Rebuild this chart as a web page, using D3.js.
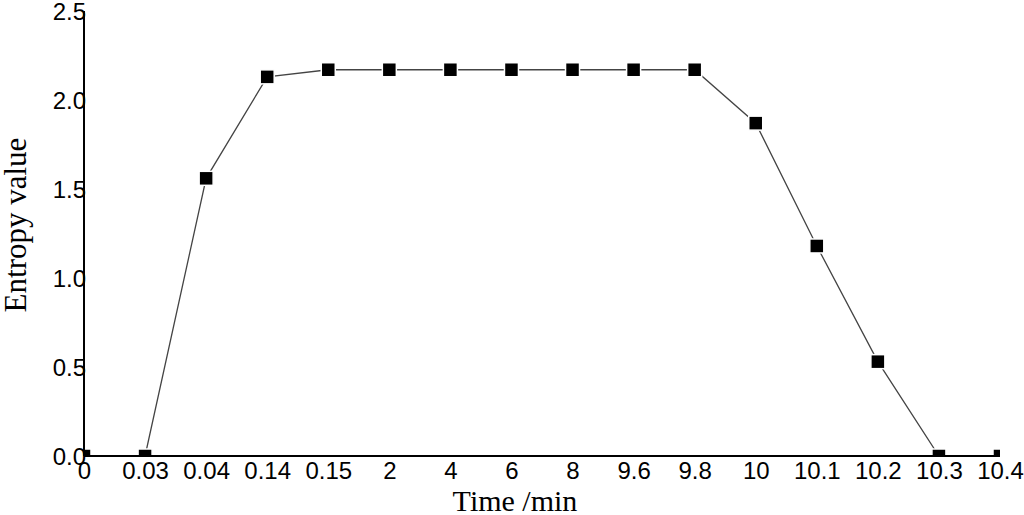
<!DOCTYPE html>
<html><head><meta charset="utf-8">
<script src="https://cdn.jsdelivr.net/npm/d3@7"></script>
<style>body{margin:0;background:#fff}svg{display:block}</style>
</head><body>
<svg id="c" width="1024" height="515"></svg>
<script>
const categories = ["0","0.03","0.04","0.14","0.15","2","4","6","8","9.6","9.8","10","10.1","10.2","10.3","10.4"];
const entropy = [0,0,1.56,2.13,2.17,2.17,2.17,2.17,2.17,2.17,2.17,1.87,1.18,0.53,0,0];
const yTicks = [0,0.5,1.0,1.5,2.0,2.5];

const svg = d3.select("#c");
const L = 84, R = 1000, T = 11, B = 456;
const x = d3.scalePoint().domain(categories).range([L, R]);
const y = d3.scaleLinear().domain([0, 2.5]).range([B, T]);

svg.append("defs").append("clipPath").attr("id","clip")
  .append("rect").attr("x", L).attr("y", 0).attr("width", R - L).attr("height", B);

const g = svg.append("g").attr("clip-path","url(#clip)");
const line = d3.line().x((d,i)=>x(categories[i])).y(d=>y(d));
g.append("path").datum(entropy).attr("d", line)
  .attr("fill","none").attr("stroke","#444").attr("stroke-width",1.3);
const s = 14;
g.selectAll("rect.m").data(entropy).join("rect").attr("class","m")
  .attr("x",(d,i)=>x(categories[i]) - s/2).attr("y", d=>y(d)-s/2)
  .attr("width", s).attr("height", s)
  .attr("fill","#000").attr("stroke","#fff").attr("stroke-width",1.5);

// axes
const xAxis = d3.axisBottom(x).tickSize(0).tickPadding(6);
const gx = svg.append("g").attr("transform",`translate(0,${B})`).call(xAxis);
gx.select(".domain").attr("stroke","#000").attr("stroke-width",2).attr("d",`M${L},0H${R}`);
gx.selectAll("text").attr("font-family","'Liberation Sans', Arial, sans-serif").attr("font-size",24).attr("fill","#000").attr("dy","0.72em");

const yAxis = d3.axisLeft(y).tickValues(yTicks).tickFormat(d3.format(".1f")).tickSize(0).tickPadding(-2);
const gy = svg.append("g").attr("transform",`translate(${L},0)`).call(yAxis);
gy.select(".domain").attr("stroke","#000").attr("stroke-width",2).attr("d",`M0,${T}V${B}`);
gy.selectAll("text").attr("font-family","'Liberation Sans', Arial, sans-serif").attr("font-size",24).attr("fill","#000").attr("dy","0.36em");
gx.raise();

svg.append("text").attr("x", 515).attr("y", 511).attr("text-anchor","middle")
  .attr("font-family","'Liberation Serif', 'Times New Roman', serif").attr("font-size",30).text("Time /min");
svg.append("text").attr("transform","translate(26,225) rotate(-90)").attr("text-anchor","middle")
  .attr("font-family","'Liberation Serif', 'Times New Roman', serif").attr("font-size",31).text("Entropy value");
</script>
</body></html>
